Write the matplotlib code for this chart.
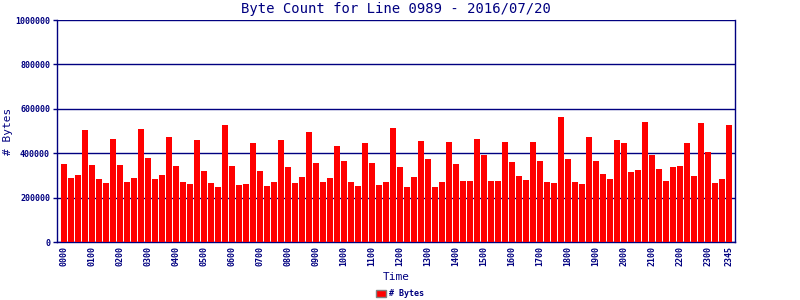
import matplotlib
matplotlib.use("Agg")
import matplotlib.pyplot as plt
from matplotlib.patches import Patch

title = "Byte Count for Line 0989 - 2016/07/20"
series_name = "# Bytes"
values = [
    353000, 290000, 303000, 506000, 348000, 285000, 267000, 465000,
    348000, 272000, 290000, 510000, 380000, 285000, 303000, 474000,
    344000, 272000, 263000, 461000, 321000, 267000, 249000, 528000,
    344000, 258000, 263000, 447000, 321000, 254000, 272000, 461000,
    339000, 267000, 294000, 497000, 357000, 272000, 290000, 434000,
    366000, 272000, 254000, 447000, 357000, 258000, 272000, 515000,
    339000, 249000, 294000, 456000, 375000, 249000, 272000, 452000,
    353000, 276000, 276000, 465000, 393000, 276000, 276000, 452000,
    362000, 299000, 281000, 452000, 366000, 272000, 267000, 564000,
    375000, 272000, 263000, 474000, 366000, 308000, 285000, 461000,
    447000, 317000, 326000, 542000, 393000, 330000, 276000, 339000,
    344000, 447000, 299000, 537000, 407000, 267000, 285000, 528000,
]
tick_labels = ["0000", "0100", "0200", "0300", "0400", "0500", "0600", "0700",
               "0800", "0900", "1000", "1100", "1200", "1300", "1400", "1500",
               "1600", "1700", "1800", "1900", "2000", "2100", "2200", "2300", "2345"]
tick_index = list(range(0, 96, 4)) + [95]
y_ticks = [0, 200000, 400000, 600000, 800000, 1000000]

navy = "#000080"
fig = plt.figure(figsize=(8, 3), dpi=100)
ax = fig.add_axes([57/800, (300-242)/300, (735-57)/800, (242-20)/300])
x = list(range(len(values)))
ax.bar(x, values, width=0.86, color="#FF0000", zorder=3)
ax.set_xlim(-1.0, 95.86)
ax.set_ylim(0, 1000000)
ax.set_yticks(y_ticks)
ax.set_yticklabels([str(v) for v in y_ticks], fontsize=6, fontweight="bold",
                   family="DejaVu Sans Mono", color=navy)
ax.set_xticks(tick_index)
ax.set_xticklabels(tick_labels, rotation=90, fontsize=6, fontweight="bold",
                   family="DejaVu Sans Mono", color=navy)
ax.tick_params(axis="y", length=3, width=1, color=navy, pad=2)
ax.tick_params(axis="x", length=0, pad=3)
ax.grid(axis="y", color=navy, linewidth=1, zorder=1)
for s in ["left", "bottom", "right"]:
    ax.spines[s].set_color(navy)
    ax.spines[s].set_linewidth(1)
ax.spines["top"].set_visible(False)
fig.text(396/800, 1 - 9/300, title, ha="center", va="center", fontsize=10,
         family="DejaVu Sans Mono", color=navy)
fig.text(8/800, 1 - 131/300, "# Bytes", rotation=90, ha="center", va="center",
         fontsize=8, family="DejaVu Sans Mono", color=navy)
fig.text(396/800, 1 - 277/300, "Time", ha="center", va="center", fontsize=8,
         family="DejaVu Sans Mono", color=navy)
leg = fig.legend(handles=[Patch(facecolor="#FF0000", edgecolor="#808080", label=series_name)],
                 loc="center", bbox_to_anchor=(400/800, 1 - 294/300), frameon=False,
                 prop={"family": "DejaVu Sans Mono", "size": 6, "weight": "bold"},
                 handlelength=1.2, handleheight=0.8, handletextpad=0.3)
for t in leg.get_texts():
    t.set_color(navy)
fig.savefig("out.png", dpi=100)
